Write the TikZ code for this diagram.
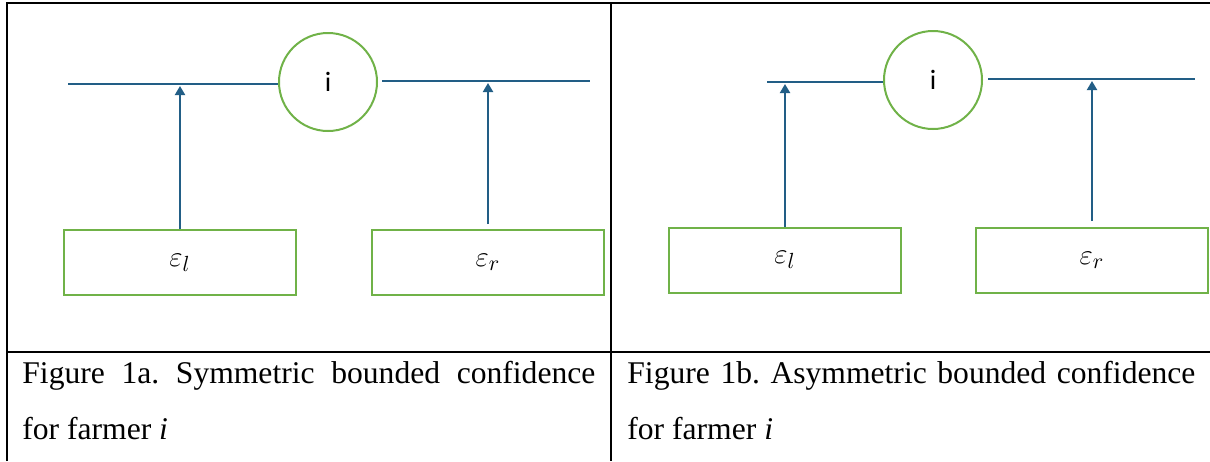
\documentclass[tikz,border=0pt]{standalone}
\usepackage{fontspec}
\setmainfont{Liberation Serif}
\newfontfamily\calib{Carlito}
\usetikzlibrary{arrows.meta}
\definecolor{LineBlue}{RGB}{34,94,134}
\definecolor{LeafGreen}{RGB}{112,178,72}

\begin{document}
\frenchspacing
\begin{tikzpicture}[x=0.5pt,y=-0.5pt,
          circ/.style={circle,draw=LeafGreen,line width=1pt,minimum size=49pt,inner sep=0pt,
                       font=\calib\fontsize{14}{16}\selectfont},
          bx/.style={draw=LeafGreen,line width=1pt,minimum width=116pt,minimum height=32.5pt,
                     inner sep=0pt,font=\fontsize{15.5}{17}\selectfont},
          ln/.style={LineBlue,line width=1pt},
          ar/.style={-{Triangle[width=5pt,length=4.5pt]},LineBlue,line width=1pt,shorten >=1pt},
          tbl/.style={line width=1.2pt},
          capt/.style={anchor=base west,inner sep=0pt,align=justify,
                       font=\fontsize{15.8}{28}\selectfont}
        ]
          \useasboundingbox (0,0) rectangle (1210,461);

          % table rules
          \draw[tbl] (7,461) -- (7,3) -- (1210,3);
          \draw[tbl] (611,3) -- (611,461);
          \draw[tbl] (7,352) -- (1210,352);

          % figure 1a
          \node(ia)[circ] at (328,82) {i};
          \node(bla)[bx] at (180,262.5) {$\varepsilon_l$};
          \node(bra)[bx] at (488,262.5) {$\varepsilon_r$};
          \coordinate(la) at (68,84);
          \coordinate(ra) at (590,81);
          \draw[ln] (la) -- (la -| ia.west);
          \draw[ln,shorten <=2pt] (ra -| ia.east) -- (ra);
          \draw[ar] (bla.north) -- (bla.north |- la);
          \draw[ar,shorten <=2.5pt] (bra.north) -- (bra.north |- ra);

          % figure 1b
          \node(ib)[circ] at (933,80) {i};
          \node(blb)[bx] at (785,260) {$\varepsilon_l$};
          \node(brb)[bx] at (1092,260.5) {$\varepsilon_r$};
          \coordinate(lb) at (767,82);
          \coordinate(rb) at (1195,79);
          \draw[ln] (lb) -- (lb -| ib.west);
          \draw[ln,shorten <=2.5pt] (rb -| ib.east) -- (rb);
          \draw[ar] (blb.north) -- (blb.north |- lb);
          \draw[ar,shorten <=3pt] (brb.north) -- (brb.north |- rb);

          % captions
          \node(ca)[capt,text width=286.5pt] at (22,383) {Figure 1a. Symmetric bounded confidence\linebreak for farmer \textit{i}};
          \node(cb)[capt,text width=284pt] at (627,383) {Figure 1b. Asymmetric bounded confidence\linebreak for farmer \textit{i}};
        \end{tikzpicture}
\end{document}
